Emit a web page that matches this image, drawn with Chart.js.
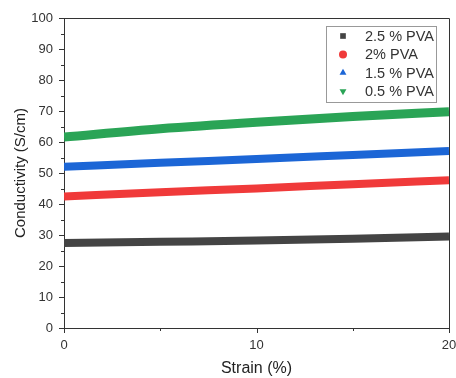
<!DOCTYPE html>
<html><head><meta charset="utf-8">
<script src="https://cdn.jsdelivr.net/npm/chart.js@4/dist/chart.umd.min.js"></script>
<style>html,body{margin:0;padding:0;background:#fff;}#wrap{width:456px;height:378px;}</style>
</head><body><div id="wrap"><canvas id="c" width="456" height="378"></canvas></div>
<script>
const strain = [0, 5, 10, 15, 20];
const pva25 = [27.4, 27.8, 28.2, 28.8, 29.5];
const pva2 = [42.4, 43.8, 45.0, 46.4, 47.7];
const pva15 = [52.0, 53.3, 54.5, 55.8, 57.1];
const pva05 = [61.6, 64.3, 66.4, 68.2, 69.8];
const labels = ['2.5 % PVA', '2% PVA', '1.5 % PVA', '0.5 % PVA'];
const colors = ['#444444', '#f03a3a', '#1c66d6', '#2aa456'];
const styles = ['rect', 'circle', 'triangle', 'triangle'];
const rots = [0, 0, 0, 180];
const series = [pva25, pva2, pva15, pva05];
const FONT = '"Liberation Sans", Arial, sans-serif';

const legendPlugin = {
  id: 'boxLegend',
  afterDraw(chart) {
    const ctx = chart.ctx;
    const x0 = 326, y0 = 26, w = 110, h = 76;
    ctx.save();
    ctx.fillStyle = '#fff';
    ctx.fillRect(x0, y0, w, h);
    ctx.strokeStyle = '#999';
    ctx.lineWidth = 1;
    ctx.strokeRect(x0 + 0.5, y0 + 0.5, w, h);
    ctx.font = '14.5px ' + FONT;
    ctx.textBaseline = 'middle';
    labels.forEach((lab, i) => {
      const cy = y0 + 10 + i * 18.4;
      ctx.fillStyle = colors[i];
      ctx.strokeStyle = colors[i];
      Chart.helpers.drawPoint(ctx, {pointStyle: styles[i], radius: 4, rotation: rots[i], borderWidth: 0}, 343, cy);
      ctx.fillStyle = '#333';
      ctx.fillText(lab, 365, cy + 1);
    });
    ctx.restore();
  }
};

const framePlugin = {
  id: 'frame',
  afterDatasetsDraw(chart) {
    const a = chart.chartArea, ctx = chart.ctx;
    ctx.save();
    ctx.strokeStyle = '#333';
    ctx.lineWidth = 1;
    ctx.beginPath();
    ctx.moveTo(a.left, a.top + 0.5); ctx.lineTo(a.right + 0.5, a.top + 0.5); ctx.lineTo(a.right + 0.5, a.bottom);
    ctx.stroke();
    ctx.restore();
  }
};

new Chart(document.getElementById('c'), {
  type: 'line',
  data: {
    datasets: series.map((s, i) => ({
      label: labels[i],
      data: strain.map((x, j) => ({x: x, y: s[j]})),
      borderColor: colors[i],
      backgroundColor: colors[i],
      borderWidth: i === 3 ? 9 : 8,
      pointRadius: 0,
      cubicInterpolationMode: 'monotone'
    }))
  },
  options: {
    responsive: false,
    animation: false,
    layout: {padding: {top: 18, right: 7, left: 0, bottom: 0}},
    plugins: {legend: {display: false}, tooltip: {enabled: false}},
    scales: {
      x: {
        type: 'linear', min: 0, max: 20,
        afterBuildTicks(s) { s.ticks = [0,5,10,15,20].map(v => ({value: v})); },
        ticks: {color: '#333', font: {size: 13, family: FONT},
          callback: v => (v % 10 === 0 ? v : ''), maxRotation: 0, padding: 2},
        grid: {display: false, drawTicks: true},
        border: {color: '#333', width: 1},
        title: {display: true, text: 'Strain (%)', color: '#222', font: {size: 16, family: FONT}, padding: {top: 0, bottom: 0}},
        afterFit(s) { s.height = 50; s.paddingRight = 0; s.paddingLeft = 0; }
      },
      y: {
        min: 0, max: 100,
        afterBuildTicks(s) { const t = []; for (let v = 0; v <= 100; v += 5) t.push({value: v}); s.ticks = t; },
        ticks: {color: '#333', font: {size: 13, family: FONT},
          callback: v => (v % 10 === 0 ? v : ''), padding: 3},
        grid: {display: false},
        border: {color: '#333', width: 1},
        title: {display: true, text: 'Conductivity (S/cm)', color: '#222', font: {size: 15, family: FONT}, padding: {top: 12, bottom: 0}},
        afterFit(s) { s.width = 64; }
      }
    }
  },
  plugins: [legendPlugin, framePlugin, {
    id: 'ticksOut',
    afterDraw(chart) {
      const ctx = chart.ctx, a = chart.chartArea, xs = chart.scales.x, ys = chart.scales.y;
      ctx.save(); ctx.strokeStyle = '#333'; ctx.lineWidth = 1; ctx.beginPath();
      for (let v = 0; v <= 100; v += 5) {
        const y = Math.round(ys.getPixelForValue(v)) + 0.5;
        const len = v % 10 === 0 ? 5 : 3;
        ctx.moveTo(a.left - len, y); ctx.lineTo(a.left, y);
      }
      [0,5,10,15,20].forEach(v => {
        const x = Math.round(xs.getPixelForValue(v)) + 0.5;
        const len = v % 10 === 0 ? 5 : 3;
        ctx.moveTo(x, a.bottom); ctx.lineTo(x, a.bottom + len);
      });
      ctx.stroke(); ctx.restore();
    }
  }]
});
</script>
</body></html>
